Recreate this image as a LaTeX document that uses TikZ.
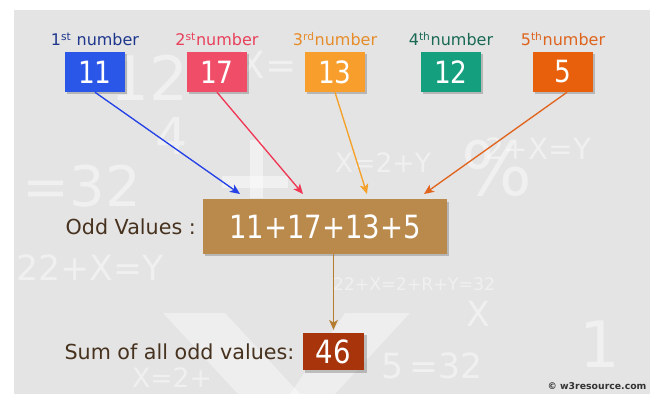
\documentclass[tikz,border=0pt]{standalone}
\usepackage{fontspec}
\setmainfont{DejaVu Sans}
\newfontfamily\numfont{DejaVu Sans}[FakeStretch=0.86]
\usepackage{tikz}
\usetikzlibrary{positioning}
\usetikzlibrary{shadows}
\usetikzlibrary{arrows.meta}

\definecolor{bggray}{RGB}{228,228,228}
\definecolor{boxblue}{RGB}{43,87,232}
\definecolor{boxred}{RGB}{240,78,104}
\definecolor{boxorange}{RGB}{247,158,44}
\definecolor{boxteal}{RGB}{20,160,126}
\definecolor{boxrust}{RGB}{232,96,12}
\definecolor{boxtan}{RGB}{186,137,76}
\definecolor{boxsum}{RGB}{168,52,12}
\definecolor{txtblue}{RGB}{30,55,140}
\definecolor{txtred}{RGB}{232,64,90}
\definecolor{txtorange}{RGB}{230,140,40}
\definecolor{txtteal}{RGB}{25,105,85}
\definecolor{txtrust}{RGB}{222,100,30}
\definecolor{txtbrown}{RGB}{70,50,30}
\definecolor{arrblue}{RGB}{35,65,230}
\definecolor{arrred}{RGB}{240,55,85}
\definecolor{arrorange}{RGB}{245,160,40}
\definecolor{arrrust}{RGB}{225,100,30}
\definecolor{arrbrown}{RGB}{180,125,50}

\tikzset{
  numbox/.style={fill=#1, text=white, minimum width=45pt, minimum height=30pt,
    inner sep=0pt, font=\numfont\fontsize{23}{23}\selectfont,
    drop shadow={shadow xshift=1.8pt, shadow yshift=-1.8pt, opacity=0.45}},
  numlabel/.style={text=#1, inner sep=0pt, font=\fontsize{12}{12}\selectfont},
  sidelabel/.style={text=txtbrown, inner sep=0pt, font=\fontsize{15.5}{15.5}\selectfont},
  feed/.style={draw=#1, line width=1pt, -{Stealth[length=7.5pt,width=6.5pt,inset=2pt]}},
  wm/.style={text=white, opacity=0.45, inner sep=0pt, font=\fontsize{#1}{#1}\selectfont}
}

\begin{document}
\begin{tikzpicture}[x=0.75pt,y=-0.75pt]
        \useasboundingbox (0,0) rectangle (650,394);
        \fill[bggray] (14,10) rectangle (650,394);

        \node[wm=46] (w1) at (150,78) {12};
        \node[wm=38] (w2) at (172,136) {4};
        \node[wm=28] (w3) at (268,65) {X=};
        \node[wm=42] (w4) at (82,186) {=32};
        \node[wm=26] (w5) at (90,268) {22+X=Y};
        \node[wm=20] (w6) at (383,163) {X=2+Y};
        \node[wm=56] (w7) at (497,168) {\%};
        \node[wm=22] (w8) at (538,149) {2+X=Y};
        \node[wm=13] (w9) at (414,284) {22+X=2+R+Y=32};
        \node[wm=26] (w10) at (478,314) {X};
        \node[wm=20] (w11) at (172,378) {X=2+};
        \node[wm=26] (w12) at (432,366) {5\,=32};
        \node[wm=48] (w13) at (600,344) {1};
        \fill[white, opacity=0.45] (250,140) rectangle (263,198);
        \fill[white, opacity=0.45] (222,176) rectangle (288,188);
        \fill[white, opacity=0.4] (163,313) -- (225,313) -- (300,394) -- (238,394) -- cycle;
        \fill[white, opacity=0.4] (345,313) -- (410,313) -- (335,394) -- (290,394) -- cycle;

        \node[numbox=boxblue] (n1) at (95,72) {11};
        \node[numbox=boxred] (n2) at (217,72) {17};
        \node[numbox=boxorange] (n3) at (335,72) {13};
        \node[numbox=boxteal] (n4) at (451,72) {12};
        \node[numbox=boxrust] (n5) at (563,72) {5};

        \node[numlabel=txtblue, above=4pt of n1] (l1) {1\textsuperscript{st} number};
        \node[numlabel=txtred, above=4pt of n2] (l2) {2\textsuperscript{st}number};
        \node[numlabel=txtorange, above=4pt of n3] (l3) {3\textsuperscript{rd}number};
        \node[numlabel=txtteal, above=4pt of n4] (l4) {4\textsuperscript{th}number};
        \node[numlabel=txtrust, above=4pt of n5] (l5) {5\textsuperscript{th}number};

        \node[numbox=boxtan, minimum width=183pt, minimum height=41pt,
              font=\numfont\fontsize{24}{24}\selectfont] (odd) at (325,226.5) {11+17+13+5};
        \node[sidelabel, left=5pt of odd] (oddlabel) {Odd Values :};

        \node[numbox=boxsum, minimum width=46pt, minimum height=28pt,
              font=\numfont\fontsize{24}{24}\selectfont] (sum) at (333.5,351.5) {46};
        \node[sidelabel, left=6pt of sum] (sumlabel) {Sum of all odd values:};

        \coordinate (e1) at (240,194);
        \coordinate (e2) at (303,194);
        \coordinate (e3) at (367,194);
        \coordinate (e4) at (424,194);
        \draw[feed=arrblue] (n1.south) -- (e1);
        \draw[feed=arrred] (n2.south) -- (e2);
        \draw[feed=arrorange] (n3.south) -- (e3);
        \draw[feed=arrrust] ([xshift=3pt]n5.south) -- (e4);
        \draw[feed=arrbrown, shorten >=2pt] (sum.north |- odd.south) -- (sum.north);

        \node[text=black!80, font=\bfseries\fontsize{7}{7}\selectfont] (copy) at (597,386) {© w3resource.com};
    \end{tikzpicture}
\end{document}
